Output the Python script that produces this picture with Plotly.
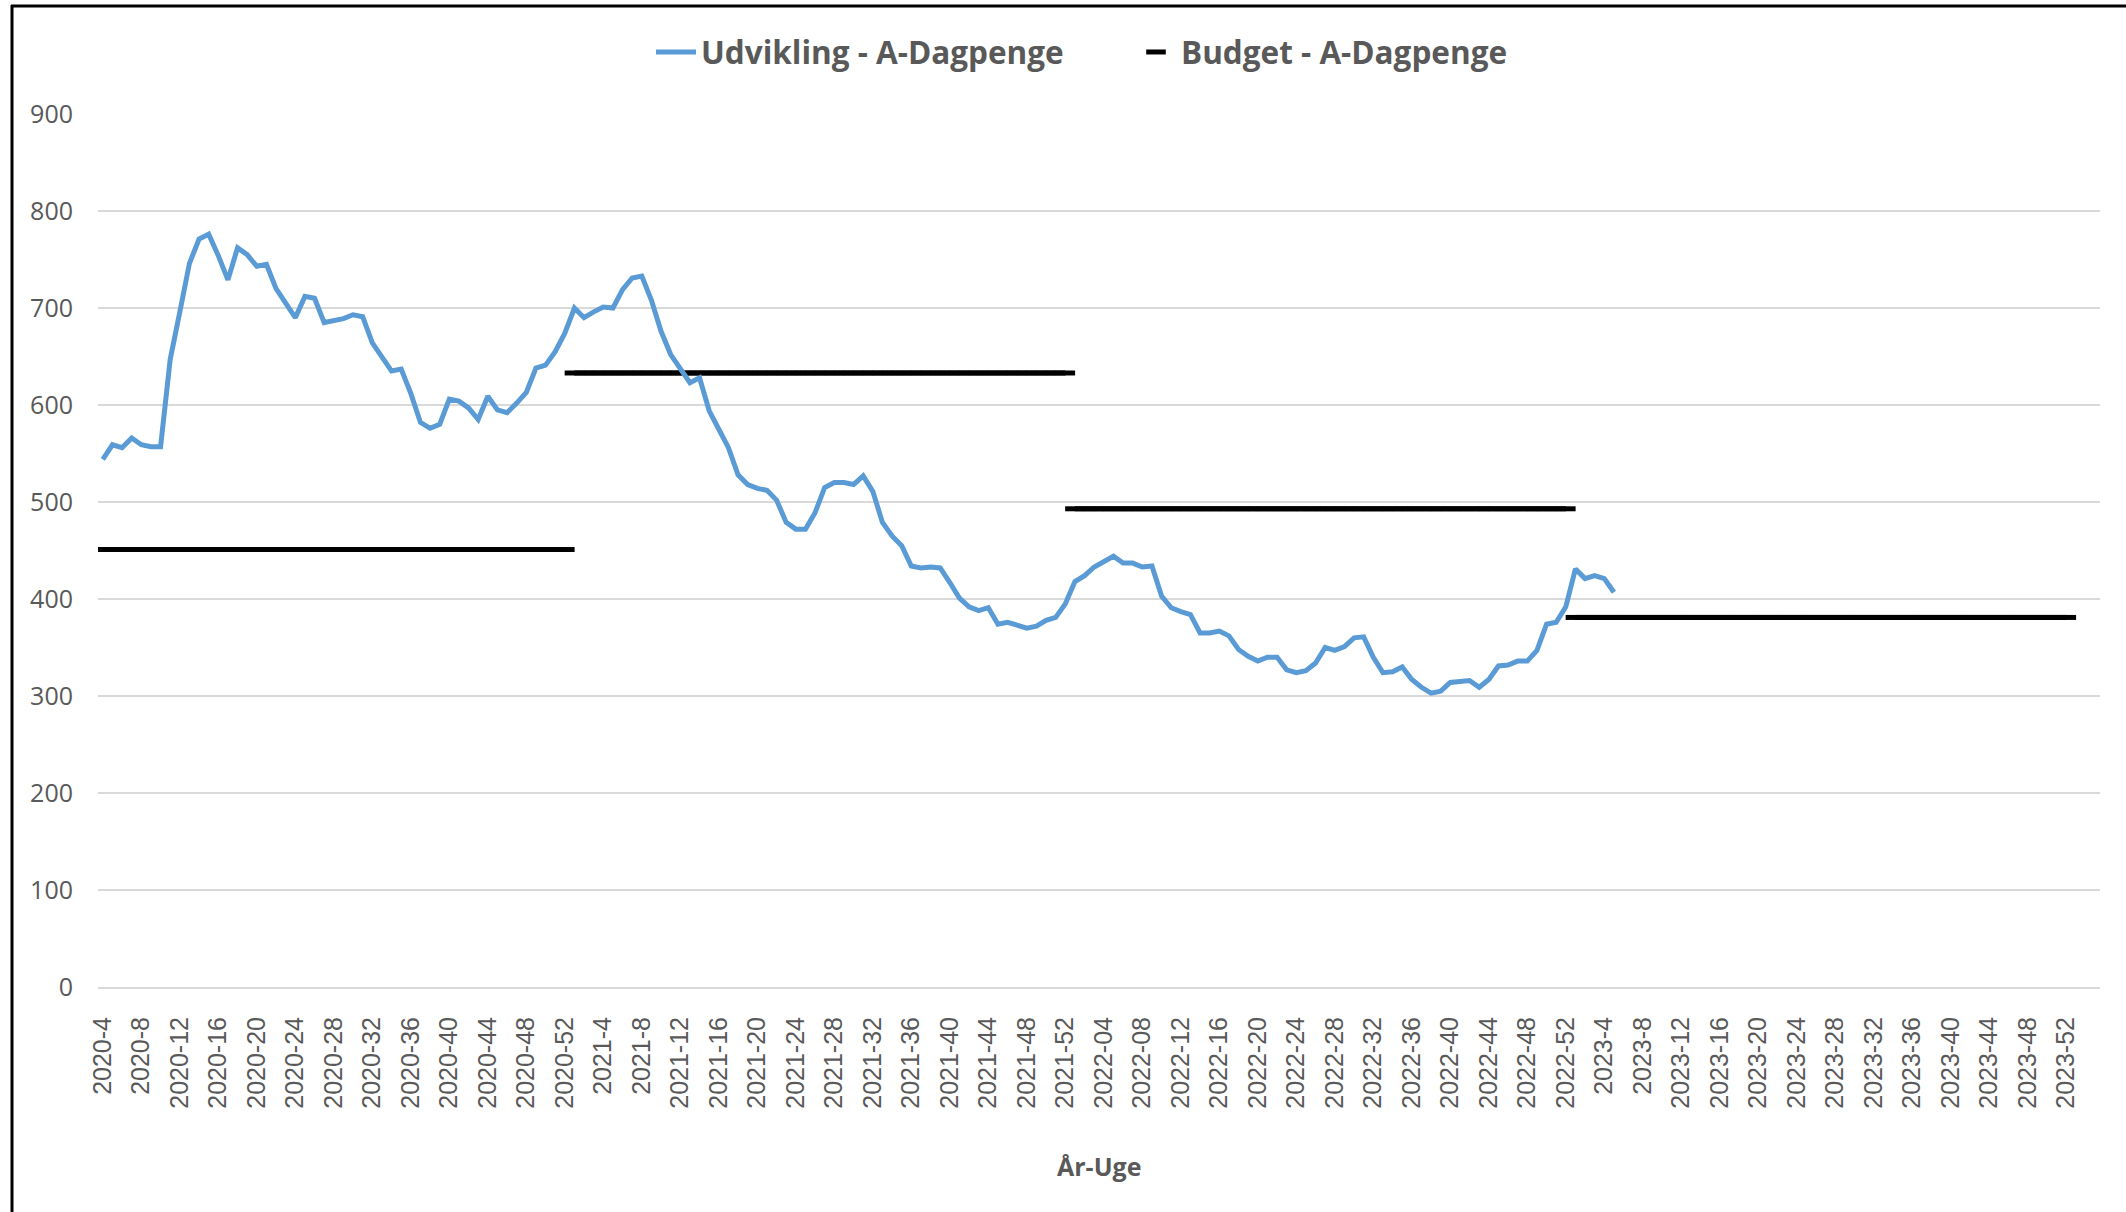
import plotly.graph_objects as go

# ---------------- data ----------------
years = [2020, 2021, 2022, 2023]
first_week = {2020: 4, 2021: 1, 2022: 1, 2023: 1}
weeks_per_year = 52

# category labels (År-Uge); 2022 uses zero-padded weeks as in the source
categories = []
for yr in years:
    for wk in range(first_week[yr], weeks_per_year + 1):
        categories.append(f"{yr}-{wk:02d}" if yr == 2022 else f"{yr}-{wk}")

udvikling = [
    544, 559, 556, 566, 559, 557, 557, 647, 696, 746, 771, 776, 754, 729, 762, 755,
    743, 745, 720, 705, 690, 712, 710, 685, 687, 689, 693, 691,
    664, 650, 635, 637, 612, 582, 576, 580, 606, 604, 597, 585, 609, 595, 592, 602,
    613, 638, 641, 655, 674, 700, 690, 696, 701, 700,
    719, 731, 733, 708, 676, 652, 638, 623, 628, 594, 575, 556, 528, 518, 514, 512,
    502, 479, 472, 472, 489, 515, 520, 520, 518, 527, 511, 479,
    465, 455, 434, 432, 433, 432, 417, 401, 392, 388, 391, 374, 376, 373, 370, 372,
    378, 381, 395, 418, 424, 433, 438, 444, 437, 437, 433,
    434, 403, 391, 387, 384, 365, 365, 367, 362, 348, 341, 336, 340, 340, 327, 324,
    326, 334, 350, 347, 351, 360, 361, 340, 324, 325, 330,
    317, 309, 303, 305, 314, 315, 316, 309, 317, 331, 332, 336, 336, 347, 374, 376,
    392, 431, 421, 424, 421, 407,
]

budget_per_year = [451, 633, 493, 381]
budget_map = dict(zip(years, budget_per_year))
budget = [budget_map[int(c.split("-")[0])] for c in categories]

tick_labels = categories[::4]

# ---------------- layout helpers ----------------
W, H = 2126, 1212
PL, PR, PT, PB = 98, 2100, 114, 987  # plot area in pixels


def px_x(px):
    return (px - PL) / (PR - PL)


def px_y(py):
    return (PB - py) / (PB - PT)


GRAY = "#595959"
LEGEND_FONT = dict(family="Open Sans", size=31.5, color=GRAY, weight="bold")

fig = go.Figure()
fig.add_trace(go.Scatter(
    x=categories, y=budget, mode="markers",
    name="Budget - A-Dagpenge",
    marker=dict(symbol="line-ew", size=14, color="black",
                line=dict(color="black", width=5)),
    legend="legend2",
))
fig.add_trace(go.Scatter(
    x=categories[:len(udvikling)], y=udvikling, mode="lines",
    name="Udvikling - A-Dagpenge",
    line=dict(color="#5B9BD5", width=5),
    legend="legend",
))

fig.update_layout(
    width=W, height=H,
    margin=dict(l=PL, r=W - PR, t=PT, b=H - PB, pad=0),
    paper_bgcolor="white", plot_bgcolor="white",
    showlegend=True,
    legend=dict(
        orientation="h", xanchor="left", yanchor="middle",
        x=px_x(651), y=px_y(52), font=LEGEND_FONT, itemwidth=40,
        bgcolor="rgba(0,0,0,0)",
    ),
    legend2=dict(
        orientation="h", xanchor="left", yanchor="middle",
        x=px_x(1131), y=px_y(52), font=LEGEND_FONT, itemwidth=40,
        bgcolor="rgba(0,0,0,0)",
    ),
    xaxis=dict(
        type="category", categoryorder="array", categoryarray=categories,
        range=[-0.5, 207.5],
        tickmode="array", tickvals=tick_labels, ticktext=tick_labels,
        tickangle=-90,
        tickfont=dict(family="Liberation Sans", size=25, color=GRAY),
        showgrid=False, zeroline=False,
        showline=True, linecolor="#D9D9D9", linewidth=2,
        ticks="", ticklabelstandoff=18,
    ),
    yaxis=dict(
        range=[0, 900], dtick=100, tick0=0,
        gridcolor="#D9D9D9", gridwidth=2,
        zeroline=False, showline=False,
        tickfont=dict(family="Open Sans", size=25, color=GRAY),
        ticks="", ticklabelstandoff=24,
    ),
    annotations=[dict(
        text="År-Uge", xref="paper", yref="paper",
        x=px_x(1099), y=px_y(1166), xanchor="center", yanchor="middle",
        showarrow=False,
        font=dict(family="Open Sans", size=25, color=GRAY, weight="bold"),
    )],
    shapes=[
        dict(type="line", xref="paper", yref="paper",
             x0=px_x(12), x1=px_x(12), y0=px_y(5), y1=px_y(1212),
             line=dict(color="black", width=3)),
        dict(type="line", xref="paper", yref="paper",
             x0=px_x(11), x1=px_x(2126), y0=px_y(6), y1=px_y(6),
             line=dict(color="black", width=3)),
    ],
)

fig.write_html("out.html", config={"displayModeBar": False},
               post_script="document.body.style.margin='0';")
